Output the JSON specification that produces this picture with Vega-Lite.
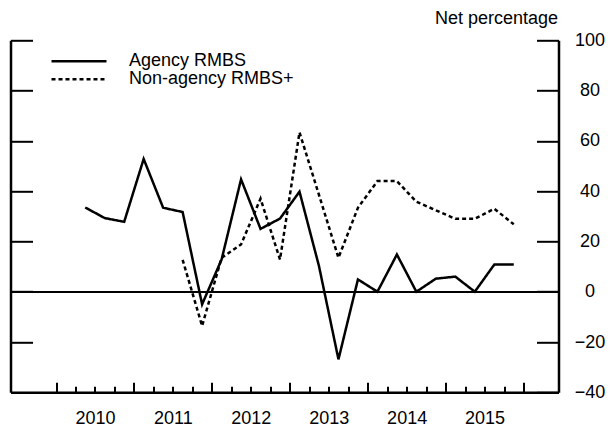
{
  "$schema": "https://vega.github.io/schema/vega-lite/v6.json",
  "width": 548,
  "height": 352,
  "autosize": "none",
  "padding": {"left": 10.5, "top": 40.3, "right": 51.5, "bottom": 35.7},
  "background": "white",
  "config": {
    "view": {"stroke": null},
    "font": "Liberation Sans",
    "axis": {
      "grid": false,
      "domainColor": "black",
      "domainWidth": 2.5,
      "tickColor": "black",
      "tickWidth": 2,
      "labelColor": "black",
      "labelFont": "Liberation Sans",
      "labelFontSize": 18,
      "titleFont": "Liberation Sans",
      "labelFlush": false,
      "labelOverlap": false,
      "labelBound": false
    }
  },
  "data": {
    "values": [
      {"t": 2010.375, "series": "Agency RMBS", "v": 33.5},
      {"t": 2010.625, "series": "Agency RMBS", "v": 29.3},
      {"t": 2010.875, "series": "Agency RMBS", "v": 27.8},
      {"t": 2011.125, "series": "Agency RMBS", "v": 52.8},
      {"t": 2011.375, "series": "Agency RMBS", "v": 33.4},
      {"t": 2011.625, "series": "Agency RMBS", "v": 31.7},
      {"t": 2011.875, "series": "Agency RMBS", "v": -5},
      {"t": 2012.125, "series": "Agency RMBS", "v": 12.8},
      {"t": 2012.375, "series": "Agency RMBS", "v": 44.7},
      {"t": 2012.625, "series": "Agency RMBS", "v": 25},
      {"t": 2012.875, "series": "Agency RMBS", "v": 29.1},
      {"t": 2013.125, "series": "Agency RMBS", "v": 39.8},
      {"t": 2013.375, "series": "Agency RMBS", "v": 10.2},
      {"t": 2013.625, "series": "Agency RMBS", "v": -26.9},
      {"t": 2013.875, "series": "Agency RMBS", "v": 4.9},
      {"t": 2014.125, "series": "Agency RMBS", "v": 0},
      {"t": 2014.375, "series": "Agency RMBS", "v": 14.8},
      {"t": 2014.625, "series": "Agency RMBS", "v": 0},
      {"t": 2014.875, "series": "Agency RMBS", "v": 5.2},
      {"t": 2015.125, "series": "Agency RMBS", "v": 6},
      {"t": 2015.375, "series": "Agency RMBS", "v": 0},
      {"t": 2015.625, "series": "Agency RMBS", "v": 10.8},
      {"t": 2015.875, "series": "Agency RMBS", "v": 10.8},
      {"t": 2011.625, "series": "Non-agency RMBS+", "v": 12.7},
      {"t": 2011.875, "series": "Non-agency RMBS+", "v": -13.6},
      {"t": 2012.125, "series": "Non-agency RMBS+", "v": 13.5},
      {"t": 2012.375, "series": "Non-agency RMBS+", "v": 18.8},
      {"t": 2012.625, "series": "Non-agency RMBS+", "v": 37},
      {"t": 2012.875, "series": "Non-agency RMBS+", "v": 12.8},
      {"t": 2013.125, "series": "Non-agency RMBS+", "v": 63.4},
      {"t": 2013.375, "series": "Non-agency RMBS+", "v": 38.5},
      {"t": 2013.625, "series": "Non-agency RMBS+", "v": 13.5},
      {"t": 2013.875, "series": "Non-agency RMBS+", "v": 33.4},
      {"t": 2014.125, "series": "Non-agency RMBS+", "v": 44},
      {"t": 2014.375, "series": "Non-agency RMBS+", "v": 44},
      {"t": 2014.625, "series": "Non-agency RMBS+", "v": 35.8},
      {"t": 2014.875, "series": "Non-agency RMBS+", "v": 32.4},
      {"t": 2015.125, "series": "Non-agency RMBS+", "v": 29},
      {"t": 2015.375, "series": "Non-agency RMBS+", "v": 29},
      {"t": 2015.625, "series": "Non-agency RMBS+", "v": 33},
      {"t": 2015.875, "series": "Non-agency RMBS+", "v": 26.8}
    ]
  },
  "layer": [
    {
      "mark": {"type": "rule", "color": "black", "strokeWidth": 1},
      "encoding": {
        "y": {
          "datum": 0,
          "type": "quantitative",
          "scale": {"domain": [-40, 100], "nice": false, "zero": false},
          "axis": {
            "orient": "right",
            "values": [-40, -20, 0, 20, 40, 60, 80, 100],
            "tickSize": -22,
            "labelAlign": "center",
            "labelBaseline": "middle",
            "labelPadding": 53,
            "title": "Net percentage",
            "titleAngle": 0,
            "titleAlign": "right",
            "titleBaseline": "middle",
            "titleX": -1,
            "titleY": -22,
            "titleFontSize": 18,
            "titleFontWeight": "normal",
            "titleColor": "black"
          }
        }
      }
    },
    {
      "mark": {"type": "line", "color": "black", "strokeWidth": 2.5},
      "encoding": {
        "x": {
          "field": "t",
          "type": "quantitative",
          "scale": {"domain": [2009.416, 2016.449], "nice": false, "zero": false},
          "axis": {
            "orient": "bottom",
            "values": [2010, 2010.25, 2010.5, 2010.75, 2011, 2011.25, 2011.5, 2011.75, 2012, 2012.25, 2012.5, 2012.75, 2013, 2013.25, 2013.5, 2013.75, 2014, 2014.25, 2014.5, 2014.75, 2015, 2015.25, 2015.5, 2015.75, 2016],
            "tickSize": {"condition": {"test": "datum.value % 1 === 0", "value": -10}, "value": -6},
            "labelExpr": "datum.value % 1 === 0.5 ? '' + floor(datum.value) : ''",
            "labelPadding": 23,
            "title": null
          }
        },
        "y": {
          "field": "v",
          "type": "quantitative",
          "axis": {
            "orient": "left",
            "values": [-20, 0, 20, 40, 60, 80, 100],
            "tickSize": -22,
            "labels": false,
            "title": null
          }
        },
        "strokeDash": {
          "field": "series",
          "type": "nominal",
          "scale": {"domain": ["Agency RMBS", "Non-agency RMBS+"], "range": [[1, 0], [4, 3]]},
          "legend": {
            "title": null,
            "orient": "none",
            "legendX": 37.5,
            "legendY": 12,
            "symbolType": "M-1,0H9",
            "symbolSize": 121,
            "symbolStrokeWidth": 2.5,
            "symbolStrokeColor": "black",
            "symbolFillColor": "transparent",
            "labelOffset": 63,
            "labelFontSize": 18,
            "labelFont": "Liberation Sans",
            "labelColor": "black",
            "labelBaseline": "middle",
            "labelLimit": 0,
            "rowPadding": -1,
            "padding": 0
          }
        }
      }
    }
  ],
  "resolve": {"axis": {"y": "independent"}}
}
